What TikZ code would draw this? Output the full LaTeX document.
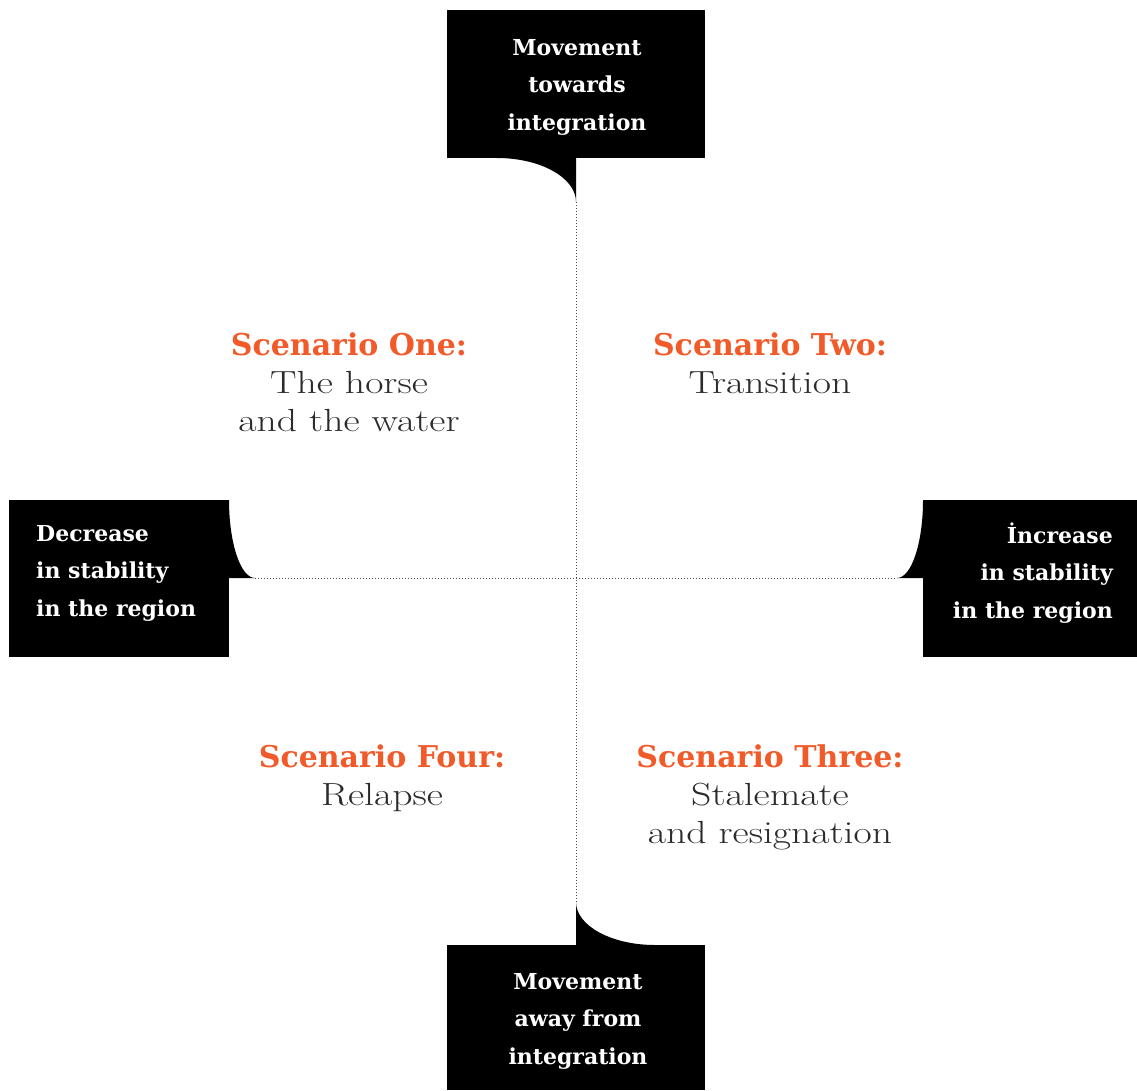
\documentclass[tikz,border=0pt]{standalone}
\usepackage{fontspec}
\usepackage{graphicx}
\newfontfamily\hdfont{DejaVu Serif}
\definecolor{scorange}{HTML}{F15A29}
\definecolor{subgray}{HTML}{2B2B2B}
\newcommand{\widetxt}[1]{\scalebox{1.24}[1]{#1}}
\tikzset{
  callout/.style={fill=black, draw=none},
  boxtext/.style={text=white, font=\hdfont\bfseries\fontsize{22}{37.5}\selectfont, inner sep=0pt},
  heading/.style={text=scorange, font=\hdfont\bfseries\fontsize{30}{38}\selectfont, anchor=base, inner sep=0pt},
  subtitle/.style={text=subgray, font=\fontsize{32}{38}\selectfont, anchor=base, inner sep=0pt},
  axis/.style={draw=black!70, line width=1pt, dash pattern=on 1pt off 2pt}
}
\begin{document}
\begin{tikzpicture}[x=1pt, y=-1pt]
\useasboundingbox (0,0) rectangle (1137,1090);
% callout shapes
\fill[callout] (447,10) rectangle (705,158);
\fill[callout] (497,158) .. controls (540.6,158) and (576,177.7) .. (576,202) -- (576,158) -- cycle;
\fill[callout] (9,500) rectangle (229,657);
\fill[callout] (229,500) .. controls (229,543.1) and (240.6,578) .. (255,578) -- (229,578) -- cycle;
\fill[callout] (923,500) rectangle (1137,657);
\fill[callout] (923,500) .. controls (923,543.1) and (911.4,578) .. (897,578) -- (923,578) -- cycle;
\fill[callout] (447,945) rectangle (705,1090);
\fill[callout] (576,902) .. controls (576,925.7) and (611.4,945) .. (655,945) -- (576,945) -- cycle;
% tail tips
\coordinate (ttop) at (576,202);
\coordinate (tbot) at (576,902);
\coordinate (tleft) at (255,578);
\coordinate (tright) at (897,578);
\draw[axis] (ttop) -- (tbot);
\draw[axis] (tleft) -- (tright);
% box texts
\node[boxtext, align=center] (top) at (577,87) {Movement\\towards\\integration};
\node[boxtext, align=left, anchor=west] (left) at (36,573) {Decrease\\in stability\\in the region};
\node[boxtext, align=right, anchor=east] (right) at (1113,573) {İncrease\\in stability\\in the region};
\node[boxtext, align=center] (bottom) at (578,1021) {Movement\\away from\\integration};
% scenarios
\node[heading] (s1h) at (349,355) {Scenario One:};
\node[subtitle] (s1a) at (349,393) {\widetxt{The horse}};
\node[subtitle] (s1b) at (349,431) {\widetxt{and the water}};
\node[heading] (s2h) at (770,355) {Scenario Two:};
\node[subtitle] (s2a) at (770,393) {\widetxt{Transition}};
\node[heading] (s4h) at (382,767) {Scenario Four:};
\node[subtitle] (s4a) at (382,805) {\widetxt{Relapse}};
\node[heading] (s3h) at (770,767) {Scenario Three:};
\node[subtitle] (s3a) at (770,805) {\widetxt{Stalemate}};
\node[subtitle] (s3b) at (770,843) {\widetxt{and resignation}};
\end{tikzpicture}
\end{document}
